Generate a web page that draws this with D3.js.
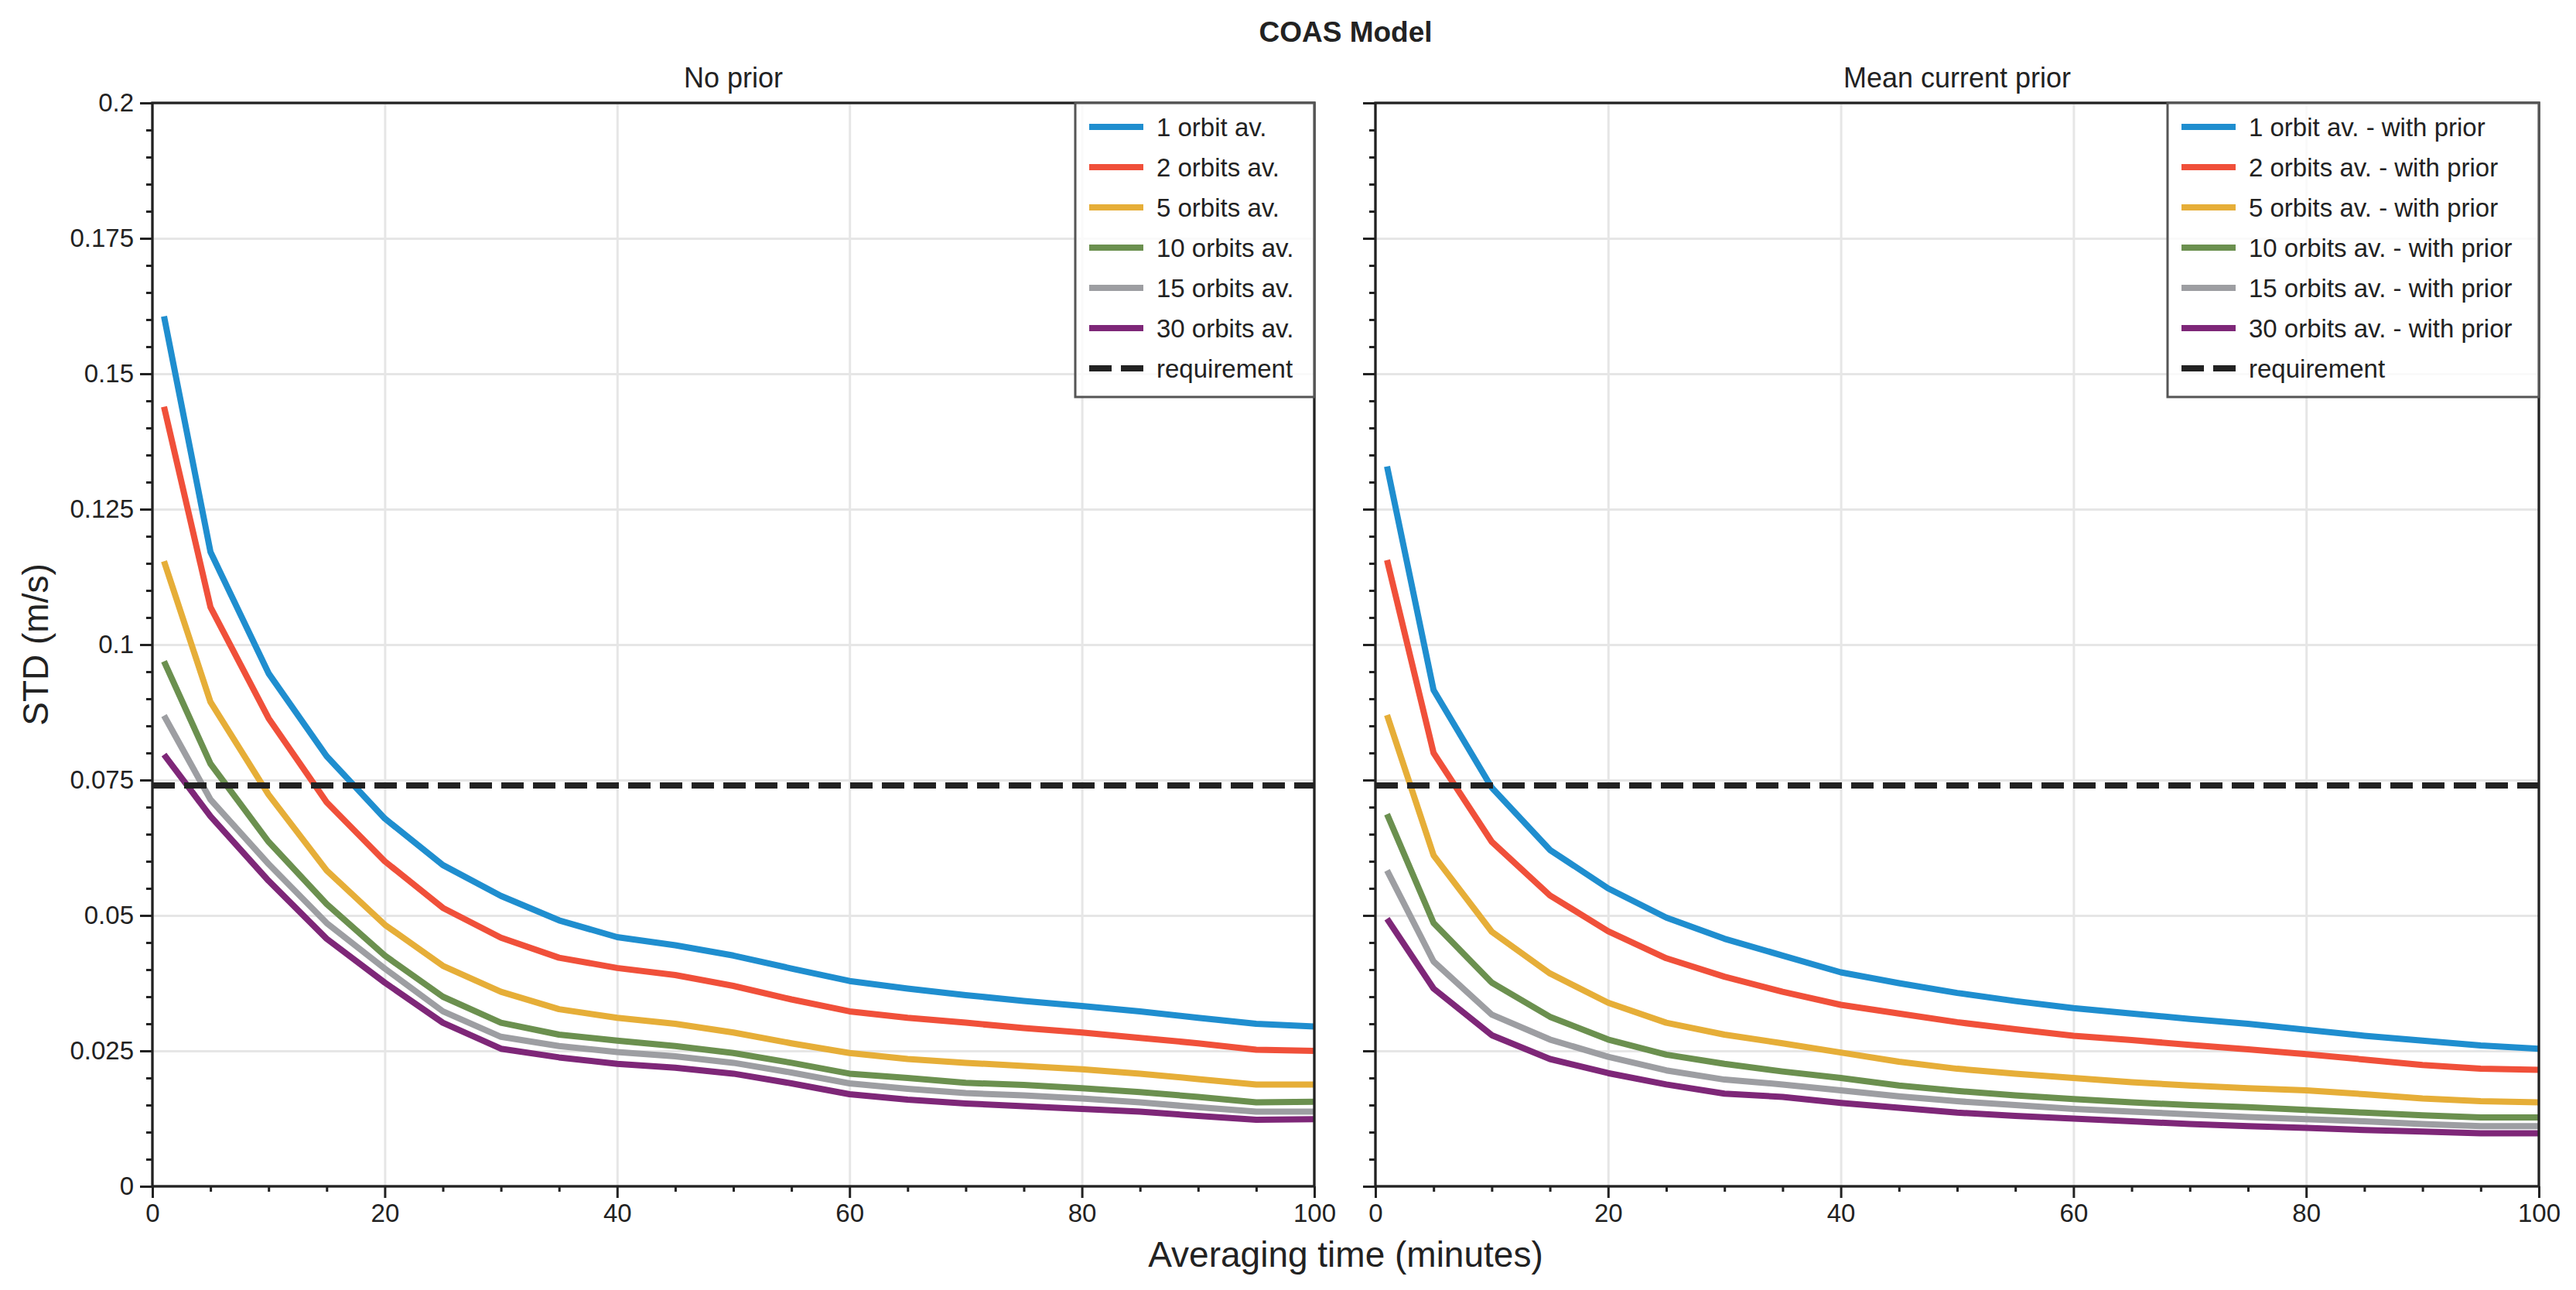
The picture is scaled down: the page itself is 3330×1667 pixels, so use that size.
<!DOCTYPE html>
<html>
<head>
<meta charset="utf-8">
<script src="https://cdn.jsdelivr.net/npm/d3@7"></script>
<style>
  body { margin: 0; background: #fff; }
  text { font-family: "Liberation Sans", Arial, Helvetica, sans-serif; fill: #222; }
</style>
</head>
<body>
<svg id="chart"></svg>
<script>
// averaging times (minutes)
var times = [1, 5, 10, 15, 20, 25, 30, 35, 40, 45, 50, 55, 60, 65, 70, 75, 80, 85, 90, 95, 100];

// left panel - no prior
var orbit1 = [0.1606, 0.1171, 0.0947, 0.0794, 0.0679, 0.0593, 0.0536, 0.0491, 0.0460, 0.0445, 0.0426, 0.0402, 0.0379, 0.0365, 0.0353, 0.0342, 0.0333, 0.0323, 0.0311, 0.0300, 0.0295];
var orbit2 = [0.1439, 0.1069, 0.0864, 0.0709, 0.0600, 0.0514, 0.0459, 0.0422, 0.0403, 0.0390, 0.0370, 0.0345, 0.0323, 0.0311, 0.0302, 0.0292, 0.0284, 0.0274, 0.0264, 0.0252, 0.0250];
var orbit5 = [0.1154, 0.0894, 0.0723, 0.0583, 0.0483, 0.0407, 0.0359, 0.0327, 0.0311, 0.0300, 0.0284, 0.0264, 0.0246, 0.0235, 0.0228, 0.0222, 0.0216, 0.0208, 0.0198, 0.0188, 0.0188];
var orbit10 = [0.0969, 0.0780, 0.0636, 0.0521, 0.0426, 0.0350, 0.0302, 0.0280, 0.0269, 0.0259, 0.0246, 0.0228, 0.0208, 0.0200, 0.0191, 0.0187, 0.0181, 0.0174, 0.0165, 0.0155, 0.0156];
var orbit15 = [0.0869, 0.0714, 0.0595, 0.0486, 0.0402, 0.0323, 0.0276, 0.0259, 0.0248, 0.0240, 0.0228, 0.0210, 0.0190, 0.0180, 0.0172, 0.0168, 0.0162, 0.0155, 0.0146, 0.0138, 0.0138];
var orbit30 = [0.0797, 0.0683, 0.0564, 0.0457, 0.0376, 0.0302, 0.0254, 0.0238, 0.0226, 0.0219, 0.0208, 0.0190, 0.0170, 0.0160, 0.0153, 0.0148, 0.0143, 0.0138, 0.0130, 0.0123, 0.0124];

// right panel - mean current prior
var prior1 = [0.1329, 0.0916, 0.0736, 0.0621, 0.0550, 0.0496, 0.0457, 0.0426, 0.0395, 0.0375, 0.0357, 0.0342, 0.0329, 0.0319, 0.0309, 0.0300, 0.0289, 0.0278, 0.0269, 0.0260, 0.0254];
var prior2 = [0.1156, 0.0800, 0.0636, 0.0537, 0.0471, 0.0421, 0.0387, 0.0359, 0.0335, 0.0319, 0.0303, 0.0290, 0.0278, 0.0270, 0.0261, 0.0253, 0.0244, 0.0234, 0.0224, 0.0217, 0.0215];
var prior5 = [0.0870, 0.0611, 0.0470, 0.0393, 0.0339, 0.0302, 0.0280, 0.0264, 0.0247, 0.0230, 0.0217, 0.0208, 0.0200, 0.0192, 0.0186, 0.0181, 0.0177, 0.0170, 0.0162, 0.0157, 0.0155];
var prior10 = [0.0687, 0.0486, 0.0376, 0.0313, 0.0271, 0.0243, 0.0226, 0.0212, 0.0200, 0.0186, 0.0176, 0.0168, 0.0161, 0.0155, 0.0150, 0.0146, 0.0141, 0.0136, 0.0131, 0.0127, 0.0127];
var prior15 = [0.0583, 0.0415, 0.0317, 0.0271, 0.0239, 0.0214, 0.0197, 0.0188, 0.0177, 0.0166, 0.0157, 0.0150, 0.0143, 0.0138, 0.0133, 0.0128, 0.0124, 0.0120, 0.0115, 0.0111, 0.0111];
var prior30 = [0.0494, 0.0365, 0.0279, 0.0235, 0.0209, 0.0188, 0.0171, 0.0165, 0.0154, 0.0145, 0.0136, 0.0130, 0.0125, 0.0120, 0.0115, 0.0111, 0.0108, 0.0104, 0.0101, 0.0098, 0.0098];

var requirement = 0.074;

var orbitNames = ["1 orbit av.", "2 orbits av.", "5 orbits av.", "10 orbits av.", "15 orbits av.", "30 orbits av."];
var priorNames = orbitNames.map(n => n + " - with prior");
var colors = ["#1f8ecf", "#f0503a", "#e6ae38", "#6b904f", "#9d9ea2", "#7e2778"];

var xTicks = [0, 20, 40, 60, 80, 100];
var yTicks = [0, 0.025, 0.05, 0.075, 0.1, 0.125, 0.15, 0.175, 0.2];
var yTickLabels = ["0", "0.025", "0.05", "0.075", "0.1", "0.125", "0.15", "0.175", "0.2"];

(function() {
    //iife so the layout names don't clash with window globals (window.top!)
    var width = 3330, height = 1667
    var plotTop = 133, plotBottom = 1533

    var svg = d3.select("#chart")
        .attr("width", width)
        .attr("height", height)

    var panels = [
        { x0: 197, x1: 1699, title: "No prior", series: [orbit1, orbit2, orbit5, orbit10, orbit15, orbit30], names: orbitNames, showLabels: true, legendW: 309 },
        { x0: 1778, x1: 3282, title: "Mean current prior", series: [prior1, prior2, prior5, prior10, prior15, prior30], names: priorNames, showLabels: false, legendW: 480 }
    ]

    var y = d3.scaleLinear().domain([0, 0.2]).range([plotBottom, plotTop])
    var yMinor = d3.range(0, 0.2001, 0.005).filter(v => Math.abs(v / 0.025 - Math.round(v / 0.025)) > 1e-6)
    var xMinor = d3.range(0, 101, 5).filter(v => v % 20 != 0)

    panels.forEach(p => {
        var x = d3.scaleLinear().domain([0, 100]).range([p.x0, p.x1])
        var w = p.x1 - p.x0, h = plotBottom - plotTop
        var g = svg.append("g")

        //gridlines
        g.append("g")
            .attr("transform", `translate(${p.x0},0)`)
            .call(d3.axisLeft(y).tickValues(yTicks).tickSize(-w).tickFormat(""))
            .call(a => a.select(".domain").remove())
            .selectAll("line").attr("class", "grid").attr("stroke", "#e6e6e6").attr("stroke-width", 3)
        g.append("g")
            .attr("transform", `translate(0,${plotBottom})`)
            .call(d3.axisBottom(x).tickValues(xTicks).tickSize(-h).tickFormat(""))
            .call(a => a.select(".domain").remove())
            .selectAll("line").attr("class", "grid").attr("stroke", "#e6e6e6").attr("stroke-width", 3)

        //data lines
        var line = d3.line().x((d, i) => x(times[i])).y(d => y(d))
        g.selectAll(".series")
            .data(p.series)
            .join("path")
                .attr("d", d => line(d))
                .attr("fill", "none")
                .attr("stroke", (d, i) => colors[i])
                .attr("stroke-width", 8)
                .attr("stroke-linejoin", "round")

        //requirement line
        g.append("path")
            .attr("d", d3.line().x(d => x(d)).y(() => y(requirement))([0, 100]))
            .attr("stroke", "#222")
            .attr("stroke-width", 8)
            .attr("stroke-dasharray", "29,12")

        //frame
        g.append("rect")
            .attr("x", p.x0).attr("y", plotTop)
            .attr("width", w).attr("height", h)
            .attr("fill", "none").attr("stroke", "#222").attr("stroke-width", 3.3)

        //axes
        g.append("g")
            .attr("transform", `translate(${p.x0},0)`)
            .call(d3.axisLeft(y).tickValues(yTicks).tickSize(16).tickPadding(8)
                .tickFormat((d, i) => p.showLabels ? yTickLabels[i] : ""))
        g.append("g")
            .attr("transform", `translate(${p.x0},0)`)
            .call(d3.axisLeft(y).tickValues(yMinor).tickSize(8).tickFormat(""))
        g.append("g")
            .attr("transform", `translate(0,${plotBottom})`)
            .call(d3.axisBottom(x).tickValues(xTicks).tickSize(15).tickPadding(8))
        g.append("g")
            .attr("transform", `translate(0,${plotBottom})`)
            .call(d3.axisBottom(x).tickValues(xMinor).tickSize(7).tickFormat(""))
        g.selectAll(".domain").remove()
        g.selectAll(".tick line").filter(function() { return this.getAttribute("class") != "grid" })
            .attr("stroke", "#222").attr("stroke-width", 3)
        g.selectAll(".tick text")
            .attr("font-size", 33)
            .attr("font-family", "Liberation Sans, Arial, sans-serif")
            .attr("fill", "#222")

        //panel title
        g.append("text")
            .attr("x", (p.x0 + p.x1) / 2)
            .attr("y", 113)
            .attr("text-anchor", "middle")
            .attr("font-size", 36)
            .text(p.title)

        //legend in the upper right corner
        var legend = g.append("g").attr("transform", `translate(${p.x1 - p.legendW},${plotTop})`)
        legend.append("rect")
            .attr("width", p.legendW).attr("height", 380)
            .attr("fill", "#fff").attr("fill-opacity", 0.8)
            .attr("stroke", "#555").attr("stroke-width", 3)
        var items = p.names.map((n, i) => ({ name: n, color: colors[i], dash: null }))
        items.push({ name: "requirement", color: "#222", dash: "29,12" })
        var rows = legend.selectAll(".item")
            .data(items)
            .join("g")
                .attr("transform", (d, i) => `translate(0,${31 + i * 52})`)
        rows.append("line")
            .attr("x1", 18).attr("x2", 88)
            .attr("stroke", d => d.color)
            .attr("stroke-width", 8)
            .attr("stroke-dasharray", d => d.dash)
        rows.append("text")
            .attr("x", 105)
            .attr("y", 12)
            .attr("font-size", 33)
            .text(d => d.name)
    })

    //figure title and shared axis labels
    svg.append("text")
        .attr("x", (197 + 3282) / 2)
        .attr("y", 54)
        .attr("text-anchor", "middle")
        .attr("font-size", 37)
        .attr("font-weight", "bold")
        .text("COAS Model")

    svg.append("text")
        .attr("x", (197 + 3282) / 2)
        .attr("y", 1637)
        .attr("text-anchor", "middle")
        .attr("font-size", 46)
        .text("Averaging time (minutes)")

    svg.append("text")
        .attr("transform", `translate(62,${(plotTop + plotBottom) / 2}) rotate(-90)`)
        .attr("text-anchor", "middle")
        .attr("font-size", 46)
        .text("STD (m/s)")
})();
</script>
</body>
</html>
